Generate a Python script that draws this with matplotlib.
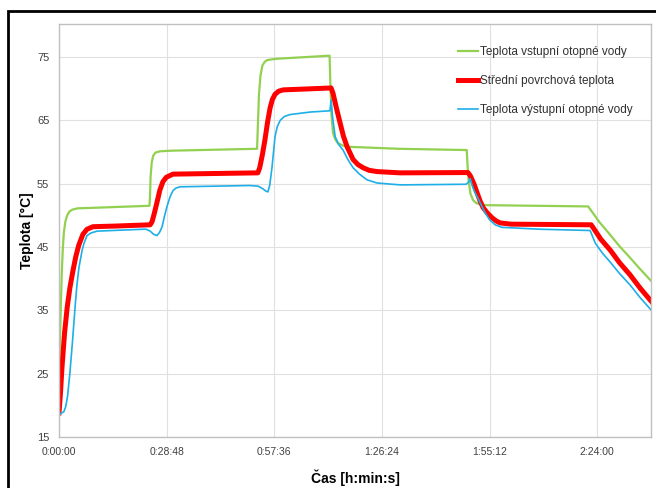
import matplotlib
matplotlib.use("Agg")
import matplotlib.pyplot as plt
from matplotlib.patches import Rectangle

plt.rcParams['font.family'] = ['Liberation Sans', 'DejaVu Sans']

# time in minutes, temperatures in degC
t_in = [0, 0.25, 0.5, 0.75, 1.0, 1.3, 1.7, 2.2, 2.8, 3.6, 5, 10, 24.2,
        24.35, 24.5, 24.8, 25.2, 25.8, 27, 30, 53.0, 53.2, 53.5, 53.9, 54.4,
        55, 55.7, 58, 72.4, 72.6, 72.9, 73.3, 73.9, 74.6, 76, 78, 91, 109.1,
        109.3, 109.6, 110.1, 110.8, 111.7, 114, 141.6, 142.2, 144.5, 147.5,
        150, 152.8, 155.5, 158.5]
T_in = [23.5, 30, 36, 41, 44.5, 47.3, 49.0, 50.0, 50.6, 50.9, 51.1, 51.2, 51.5,
        53, 56, 58.3, 59.4, 59.9, 60.1, 60.2, 60.5, 64, 69, 72, 73.6,
        74.2, 74.5, 74.7, 75.2, 71, 66, 63, 62, 61.4, 61.0, 60.8, 60.5, 60.3,
        58, 55.5, 53.4, 52.4, 51.9, 51.6, 51.4, 50.9, 49.0, 46.9,
        45.1, 43.3, 41.5, 39.6]

t_surf = [0, 0.4, 0.8, 1.5, 2.2, 2.9, 3.75, 4.5, 5.3, 6.4, 7.5, 9.1, 15, 24.4,
          24.9, 25.5, 26.2, 27, 27.8, 28.7, 30.5, 53.2, 53.7, 54.4, 55.1, 55.8,
          56.5, 57.1, 57.8, 58.8, 60, 72.8, 73.3, 74.2, 75.2, 76.1, 77.1, 78.7,
          80, 81.4, 83, 85.1, 91.3, 109.4, 110.0, 111, 111.9, 112.7, 113.5,
          114.7, 115.9, 117, 118.0, 121, 142.4, 143.2, 145, 147.5, 150, 152.8,
          155.5, 158.5]
T_surf = [18.8, 22, 26, 31.5, 35.5, 38.5, 41.3, 43.5, 45.3, 47.0, 47.8, 48.2, 48.3, 48.5,
          49.0, 50.3, 52, 54, 55.3, 56.0, 56.5, 56.7, 57.5, 59.5, 61.9, 64.7,
          67, 68.3, 69.1, 69.6, 69.8, 70.1, 69.3, 67, 64.6, 62.5, 60.8, 58.8,
          58.0, 57.5, 57.1, 56.9, 56.7, 56.75, 56.3, 55.0, 53.5, 52.2, 51.2,
          50.3, 49.6, 49.1, 48.8, 48.6, 48.5, 47.8, 46.2, 44.5, 42.5, 40.6,
          38.5, 36.4]

t_out = [0, 1.3, 1.8, 2.3, 2.9, 3.6, 4.3, 4.8, 5.35, 6.2, 6.7, 7.5, 8.5, 10.2,
         22.5, 23.3, 24.4, 25.3, 26.2, 26.9, 27.6, 28.2, 28.9, 29.7, 30.5, 31.3,
         32.4, 51, 53.3, 54.5, 55.4, 55.9, 56.4, 57.0, 57.4, 57.8, 58.4, 59.2,
         60.3, 61.8, 67.2, 72.5, 72.8, 73.2, 73.9, 74.8, 76.0, 77.3, 78.7, 80.4,
         82.4, 85.1, 91.3, 108.9, 109.5, 110.0, 110.6, 111.2, 111.9, 113.0,
         114.0, 115.2, 116.7, 118.5, 128.8, 142.1, 142.6, 143.5, 145.3, 147.5,
         150, 152.8, 155.5, 158.5]
T_out = [18.5, 19.0, 19.8, 21.5, 25, 30, 35.5, 39, 41.8, 44.5, 45.6, 46.8, 47.2, 47.5,
         47.8, 47.8, 47.5, 47.0, 46.8, 47.3, 48.2, 49.8, 51.4, 52.9, 53.9, 54.3,
         54.5, 54.7, 54.6, 54.2, 53.8, 53.7, 54.8, 57.6, 60.0, 62.4, 64.0, 65,
         65.6, 65.9, 66.3, 66.5, 68.2, 65.5, 62.4, 61.2, 60.3, 58.8, 57.5, 56.5,
         55.6, 55.1, 54.8, 54.9, 55.2, 55.8, 54.6, 53.7, 52.9, 51.6,
         50.4, 49.3, 48.5, 48.1, 47.8, 47.6, 46.9, 45.6, 44.1, 42.6,
         40.8, 39.0, 37.0, 35.0]

x_ticks = [0, 28.8, 57.6, 86.4, 115.2, 144.0]
x_labels = ["0:00:00", "0:28:48", "0:57:36", "1:26:24", "1:55:12", "2:24:00"]
y_ticks = [15, 25, 35, 45, 55, 65, 75]

fig = plt.figure(figsize=(6.56, 4.88), dpi=100)
ax = fig.add_axes([59/656, 1 - 437/488, (651 - 59)/656, (437 - 24)/488])

ax.plot(t_in, T_in, color="#92D050", lw=1.6, solid_joinstyle="round",
        label="Teplota vstupní otopné vody")
ax.plot(t_surf, T_surf, color="#FF0000", lw=3.6, solid_joinstyle="round",
        label="Střední povrchová teplota")
ax.plot(t_out, T_out, color="#1EAEE8", lw=1.2, solid_joinstyle="round",
        label="Teplota výstupní otopné vody")

ax.set_xlim(0, 158.4)
ax.set_ylim(15, 80.2)
ax.set_xticks(x_ticks)
ax.set_xticklabels(x_labels)
ax.set_yticks(y_ticks)
ax.grid(True, color="#e0e0e0", lw=0.8)
ax.set_axisbelow(True)
ax.tick_params(length=0, labelsize=7.5, labelcolor="#404040", pad=7)
ax.tick_params(axis="y", labelsize=8)
for s in ax.spines.values():
    s.set_color("#c0c0c0")
    s.set_linewidth(1.0)

ax.set_xlabel("Čas [h:min:s]", fontsize=10, fontweight="bold", labelpad=9)
ax.set_ylabel("Teplota [°C]", fontsize=10, fontweight="bold", labelpad=2)

leg = ax.legend(loc="upper left", bbox_to_anchor=(458/656, 1 - 46/488),
                bbox_transform=fig.transFigure, frameon=False, fontsize=8.5,
                borderpad=0, borderaxespad=0, handlelength=1.7, handletextpad=0.2,
                labelspacing=1.45)
for txt in leg.get_texts():
    txt.set_color("#303030")

# black frame around the whole chart (cut off at right and bottom)
fig.patches.append(Rectangle((8/656, -0.1), 1.2, 1.1 - 11/488,
                             transform=fig.transFigure, fill=False,
                             edgecolor="black", lw=2.0, clip_on=False))

fig.savefig("out.png", dpi=100)
